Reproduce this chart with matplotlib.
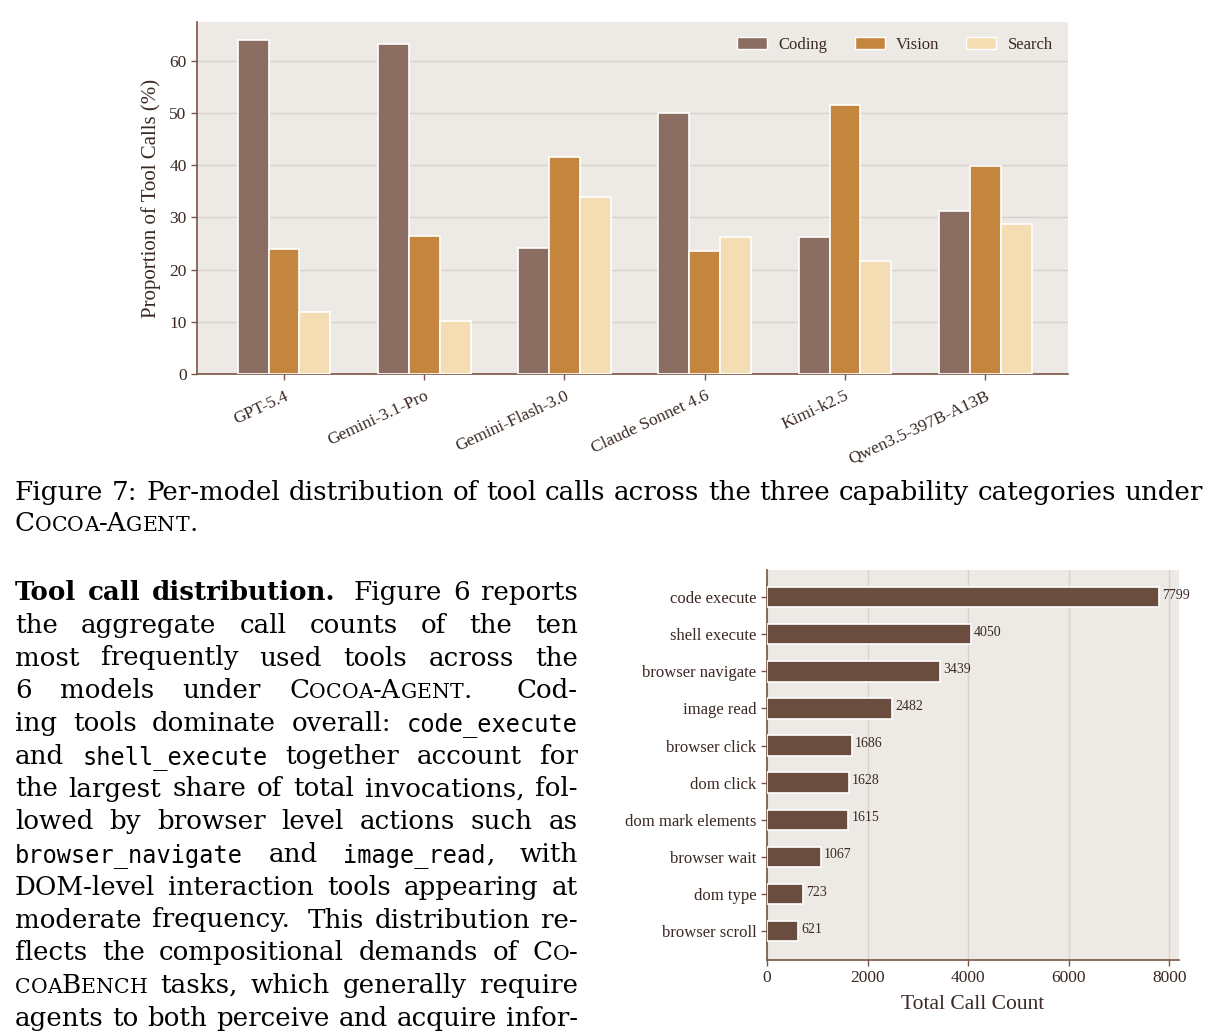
import matplotlib.pyplot as plt
import matplotlib.transforms as mtransforms
from matplotlib.patches import Patch
import numpy as np

plt.rcParams['font.family'] = ['Liberation Serif', 'DejaVu Serif']

# ---- data ----
models = ["GPT-5.4", "Gemini-3.1-Pro", "Gemini-Flash-3.0",
          "Claude Sonnet 4.6", "Kimi-k2.5", "Qwen3.5-397B-A13B"]
coding = [64.0, 63.2, 24.2, 50.0, 26.3, 31.2]
vision = [23.9, 26.4, 41.6, 23.5, 51.6, 39.8]
search = [11.9, 10.1, 33.9, 26.2, 21.6, 28.8]

tools = ["code execute", "shell execute", "browser navigate", "image read",
         "browser click", "dom click", "dom mark elements", "browser wait",
         "dom type", "browser scroll"]
counts = [7799, 4050, 3439, 2482, 1686, 1628, 1615, 1067, 723, 621]

caption = ["Figure 7: Per-model distribution of tool calls across the three capability categories under",
           "^Cocoa-Agent^."]
para = [
    "*Tool call distribution.*  Figure 6 reports",
    "the aggregate call counts of the ten",
    "most frequently used tools across the",
    "6 models under ^Cocoa-Agent^.  Cod-",
    "ing tools dominate overall: `code_execute`",
    "and `shell_execute` together account for",
    "the largest share of total invocations, fol-",
    "lowed by browser level actions such as",
    "`browser_navigate` and `image_read`, with",
    "DOM-level interaction tools appearing at",
    "moderate frequency.  This distribution re-",
    "flects the compositional demands of ^Co-^",
    "^coaBench^ tasks, which generally require",
    "agents to both perceive and acquire infor-",
]

BG = '#EDE9E5'
GRID = '#D9D2CC'
SPINE = '#7B5446'
TEXT = '#3A2823'
C_COD = '#8B6D61'
C_VIS = '#C4853F'
C_SEA = '#F4DDB3'
C_BAR = '#6B4D40'

W, H = 1219, 1035
fig = plt.figure(figsize=(W / 100, H / 100), dpi=100)
fig.patch.set_facecolor('white')


def style_axes(ax):
    ax.set_facecolor(BG)
    for s in ['top', 'right']:
        ax.spines[s].set_visible(False)
    for s in ['left', 'bottom']:
        ax.spines[s].set_color(SPINE)
        ax.spines[s].set_linewidth(1.2)
    ax.tick_params(colors=SPINE, labelcolor=TEXT, length=4, width=1)


# ---- top chart ----
ax1 = fig.add_axes([197 / W, 1 - 374 / H, (1068 - 197) / W, (374 - 22) / H])
style_axes(ax1)
x = np.arange(len(models))
w = 0.22
ax1.bar(x - w, coding, w, color=C_COD, edgecolor='white', linewidth=1.2, zorder=3)
ax1.bar(x, vision, w, color=C_VIS, edgecolor='white', linewidth=1.2, zorder=3)
ax1.bar(x + w, search, w, color=C_SEA, edgecolor='white', linewidth=1.2, zorder=3)
ax1.set_xlim(-0.62, 5.59)
ax1.set_ylim(0, 67.4)
ax1.set_yticks(range(0, 61, 10))
ax1.yaxis.grid(True, color=GRID, linewidth=1, zorder=0)
ax1.set_axisbelow(True)
ax1.set_xticks(x)
ax1.set_xticklabels(models, rotation=25, ha='right', rotation_mode='anchor', fontsize=12.5)
ax1.tick_params(axis='y', labelsize=12.5)
ax1.tick_params(axis='x', pad=6)
ax1.set_ylabel("Proportion of Tool Calls (%)", fontsize=15, color=TEXT, labelpad=6)
handles = [Patch(facecolor=c, edgecolor='white', label=l)
           for c, l in [(C_COD, 'Coding'), (C_VIS, 'Vision'), (C_SEA, 'Search')]]
ax1.legend(handles=handles, loc='upper right', ncol=3, frameon=False, fontsize=12,
           handlelength=1.8, handleheight=0.75, handletextpad=0.7, columnspacing=1.6,
           borderaxespad=0.5, labelcolor=TEXT)

# ---- bottom chart ----
ax2 = fig.add_axes([767 / W, 1 - 960 / H, (1179 - 767) / W, (960 - 570) / H])
style_axes(ax2)
yy = np.arange(len(tools))
ax2.barh(yy, counts, height=0.55, color=C_BAR, edgecolor='white', linewidth=1.2, zorder=3)
ax2.set_xlim(0, 8190)
ax2.set_ylim(9.78, -0.73)
ax2.set_xticks(range(0, 8001, 2000))
ax2.set_yticks(yy)
ax2.set_yticklabels(tools, fontsize=12)
ax2.tick_params(axis='x', labelsize=12.5)
ax2.xaxis.grid(True, color=GRID, linewidth=1, zorder=0)
ax2.set_axisbelow(True)
for i, c in enumerate(counts):
    ax2.text(c + 60, i - 0.05, str(c), va='center', ha='left', fontsize=10, color=TEXT)
ax2.set_xlabel("Total Call Count", fontsize=15.5, color=TEXT, labelpad=6)

# ---- page text ----
renderer = fig.canvas.get_renderer()
ident = mtransforms.IdentityTransform()
SERIF = 'DejaVu Serif'
TT = 'DejaVu Sans Mono'
TT_SIZE = 17


def parse_line(line, size):
    words, weights = [], []
    pending = 0.0
    bold = tt = sc = False
    for tok in line.split(' '):
        if tok == '':
            pending += 0.6
            continue
        runs = []
        buf = ''

        def flush(b, sz=None):
            if b:
                if tt:
                    runs.append((b, TT, 'normal', TT_SIZE))
                else:
                    runs.append((b, SERIF, 'bold' if bold else 'normal', sz or size))

        for ch in tok:
            if ch in '*`^':
                flush(buf)
                buf = ''
                if ch == '*':
                    bold = not bold
                elif ch == '`':
                    tt = not tt
                else:
                    sc = not sc
                continue
            if sc and ch.islower():
                flush(buf)
                buf = ''
                flush(ch.upper(), size * 0.78)
            else:
                buf += ch
        flush(buf)
        if words:
            weights.append(1 + pending)
        words.append(runs)
        pending = 0.0
    return words, weights


def make_texts(line, size):
    words, weights = parse_line(line, size)
    objs, widths = [], []
    for runs in words:
        ts, wsum = [], 0
        for txt, fam, wt, sz in runs:
            t = fig.text(0, 0, txt, fontsize=sz, fontweight=wt, family=fam,
                         color='black', va='baseline', ha='left', transform=ident)
            bw = t.get_window_extent(renderer).width
            ts.append((t, bw))
            wsum += bw
        objs.append(ts)
        widths.append(wsum)
    return objs, widths, weights


def space_width(size):
    a = fig.text(0, 0, "x x", fontsize=size, family=SERIF)
    b = fig.text(0, 0, "xx", fontsize=size, family=SERIF)
    d = a.get_window_extent(renderer).width - b.get_window_extent(renderer).width
    a.remove()
    b.remove()
    return d


# fit the body size so the first caption line fills the text width naturally
probe = 16.0
objs, widths, weights = make_texts(caption[0], probe)
natural = sum(widths) + space_width(probe) * sum(weights)
for ts in objs:
    for t, _ in ts:
        t.remove()
SIZE = probe * (1188 / natural)


def draw_line(line, x0, x1, ybase, size, justify=True):
    objs, widths, weights = make_texts(line, size)
    if justify and len(objs) > 1:
        unit = (x1 - x0 - sum(widths)) / sum(weights)
    else:
        unit = space_width(size)
    xc = x0
    for i, ts in enumerate(objs):
        for t, bw in ts:
            t.set_position((xc, H - ybase))
            xc += bw
        if i < len(weights):
            xc += unit * weights[i]


draw_line(caption[0], 15, 1203, 500, SIZE, justify=True)
draw_line(caption[1], 15, 1203, 531, SIZE, justify=False)
for k, line in enumerate(para):
    draw_line(line, 15, 578, 600 + 32.75 * k, SIZE, justify=True)

fig.savefig('out.png', dpi=100, facecolor='white')
